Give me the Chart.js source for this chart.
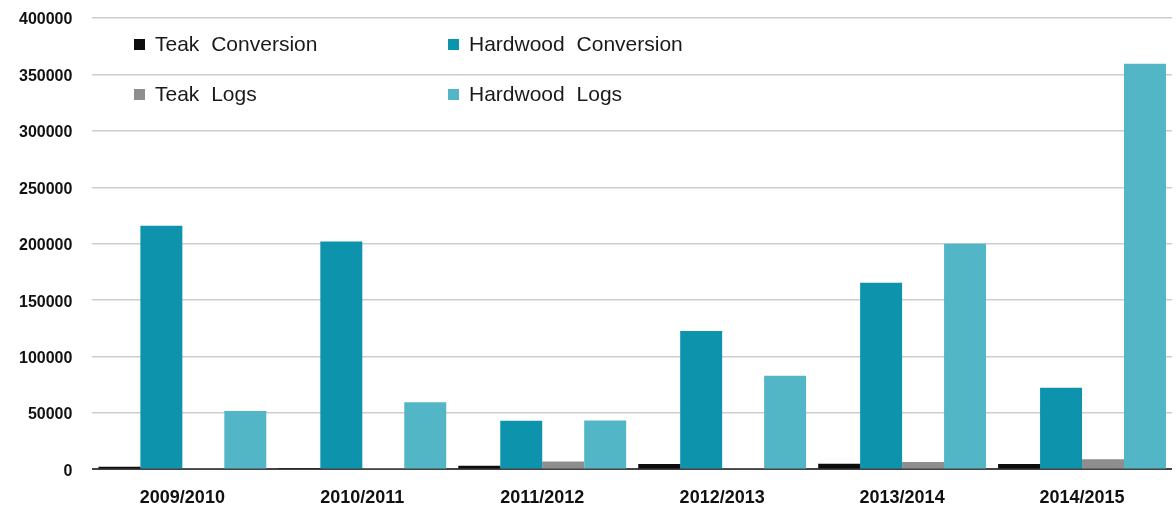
<!DOCTYPE html>
<html>
<head>
<meta charset="utf-8">
<script src="https://cdn.jsdelivr.net/npm/chart.js@4.4.1/dist/chart.umd.min.js"></script>
<style>
  body { margin: 0; background: #fff; }
  #wrap { width: 1176px; height: 516px; }
</style>
</head>
<body>
<div id="wrap"><canvas id="timberChart" width="1176" height="516"></canvas></div>
<script>
const seasons = ["2009/2010", "2010/2011", "2011/2012", "2012/2013", "2013/2014", "2014/2015"];
const teakConversion = [2400, 1200, 3300, 4700, 5000, 4700];
const hardwoodConversion = [216000, 202000, 43200, 122600, 165400, 72400];
const teakLogs = [600, 400, 7100, 600, 6500, 8900];
const hardwoodLogs = [51700, 59400, 43400, 83000, 200000, 359400];
const yTicks = [0, 50000, 100000, 150000, 200000, 250000, 300000, 350000, 400000];

const labelFont = "'Liberation Sans', Arial, sans-serif";

// legend drawn in two columns inside the plot, like the original
// (dataset order: Teak Conv, Hardwood Conv, Teak Logs, Hardwood Logs)
const legendSpots = [
  { x: 134, y: 45 },
  { x: 448, y: 45 },
  { x: 134, y: 95 },
  { x: 448, y: 95 }
];

const insideLegend = {
  id: "insideLegend",
  afterDraw(chart) {
    const ctx = chart.ctx;
    ctx.save();
    ctx.font = "21px " + labelFont;
    ctx.textBaseline = "middle";
    if ("wordSpacing" in ctx) ctx.wordSpacing = "6px";
    chart.data.datasets.forEach((ds, i) => {
      const p = legendSpots[i];
      ctx.fillStyle = ds.backgroundColor;
      ctx.fillRect(p.x, p.y - 6, 11, 11);
      ctx.fillStyle = "#1a1a1a";
      ctx.fillText(ds.label, p.x + 21, p.y);
    });
    ctx.restore();
  }
};

const ctx = document.getElementById("timberChart").getContext("2d");
const myChart = new Chart(ctx, {
  type: "bar",
  data: {
    labels: seasons,
    datasets: [
      { label: "Teak Conversion", data: teakConversion, backgroundColor: "#0d0d0d" },
      { label: "Hardwood Conversion", data: hardwoodConversion, backgroundColor: "#0e93ad" },
      { label: "Teak Logs", data: teakLogs, backgroundColor: "#8e8e8e" },
      { label: "Hardwood Logs", data: hardwoodLogs, backgroundColor: "#52b6c7" }
    ]
  },
  options: {
    responsive: false,
    animation: false,
    layout: { padding: { left: 19, right: 4, top: 18, bottom: -11 } },
    datasets: {
      bar: { categoryPercentage: 0.933, barPercentage: 1.0 }
    },
    plugins: {
      legend: { display: false },
      tooltip: { enabled: false }
    },
    scales: {
      x: {
        grid: { display: false, drawTicks: false },
        border: { display: false },
        ticks: {
          color: "#111",
          padding: 18,
          font: { family: labelFont, size: 18, weight: "bold" }
        }
      },
      y: {
        min: 0,
        max: 400000,
        afterBuildTicks(axis) {
          axis.ticks = yTicks.map(v => ({ value: v }));
        },
        grid: {
          drawTicks: true,
          tickLength: 20,
          tickColor: "rgba(0,0,0,0)",
          lineWidth: (c) => (c.tick && c.tick.value === 0 ? 2 : 1.5),
          color: (c) => (c.tick && c.tick.value === 0 ? "#444" : "#cdcdcd")
        },
        border: { display: false },
        ticks: {
          color: "#111",
          padding: 0,
          labelOffset: 2,
          font: { family: labelFont, size: 16, weight: "bold" },
          callback: (v) => String(v)
        }
      }
    }
  },
  plugins: [insideLegend]
});
</script>
</body>
</html>
